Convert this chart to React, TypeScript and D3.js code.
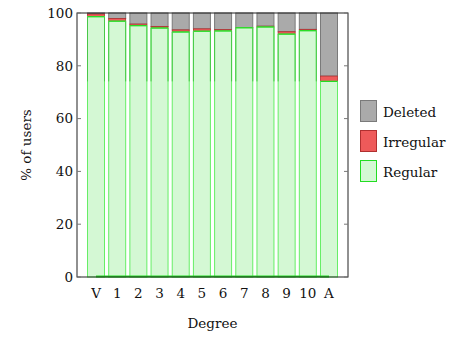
import React from "react";
import * as d3 from "d3";

const categories = ["V", "1", "2", "3", "4", "5", "6", "7", "8", "9", "10", "A"];
const regular = [98.6, 96.9, 95.2, 94.3, 92.8, 93.1, 93.2, 94.4, 94.7, 92.0, 93.3, 74.1];
const irregular = [1.0, 1.0, 0.6, 0.6, 0.8, 0.9, 0.5, 0.1, 0.3, 0.9, 0.5, 2.0];
const yTicks = [0, 20, 40, 60, 80, 100];
const legendItems = ["Deleted", "Irregular", "Regular"];

const W = 456, H = 337;
const L = 77, R = 348, T = 13, B = 277;
const FONT = "DejaVu Serif";

export default function App() {
  const x = d3.scaleLinear().domain([-0.897, categories.length - 1 + 0.897]).range([L, R]);
  const y = d3.scaleLinear().domain([0, 100]).range([B, T]);
  const bw = 17;
  const minReg = d3.min(regular) as number;

  const legendColors = [
    { fill: "#aaaaaa", stroke: "#7a7a7a" },
    { fill: "#ee5a5a", stroke: "#b03030" },
    { fill: "#d4f8d4", stroke: "#22dd22" },
  ];

  const fs = 13.5;

  return (
    <svg width={W} height={H} style={{ position: "absolute", left: 0, top: 0, background: "#fff" }}>
      {categories.map((c, i) => {
        const cx = x(i);
        const x0 = cx - bw / 2;
        const r = regular[i];
        const ir = irregular[i];
        return (
          <g key={c}>
            <rect x={x0} y={y(100)} width={bw} height={y(r + ir) - y(100)} fill="#aaaaaa" stroke="#7a7a7a" strokeWidth={1} />
            {ir > 0 && (
              <rect x={x0} y={y(r + ir)} width={bw} height={y(r) - y(r + ir)} fill="#ee5a5a" stroke="#b03030" strokeWidth={0.8} />
            )}
            <rect x={x0} y={y(r)} width={bw} height={y(0) - y(r)} fill="#d4f8d4" stroke="#66ee66" strokeWidth={1} />
            <line x1={x0} x2={x0 + bw} y1={y(r)} y2={y(r)} stroke="#22dd22" strokeWidth={1.2} />
            <line x1={x0} x2={x0} y1={y(minReg)} y2={y(r)} stroke="#48c848" strokeWidth={1} />
            <line x1={x0 + bw} x2={x0 + bw} y1={y(minReg)} y2={y(r)} stroke="#48c848" strokeWidth={1} />
          </g>
        );
      })}
      <line x1={x(0)} x2={x(categories.length - 1)} y1={y(0) - 0.5} y2={y(0) - 0.5} stroke="#22dd22" strokeWidth={2} />

      <rect x={L} y={T} width={R - L} height={B - T} fill="none" stroke="#222" strokeWidth={1} />

      <g fontFamily={FONT} fontSize={fs} fill="#111">
        {yTicks.map((t) => (
          <g key={t}>
            <line x1={L} x2={L + 4} y1={y(t)} y2={y(t)} stroke="#777" strokeWidth={1} />
            <line x1={R - 4} x2={R} y1={y(t)} y2={y(t)} stroke="#777" strokeWidth={1} />
            <text x={L - 4} y={y(t)} dy="0.35em" textAnchor="end">
              {t}
            </text>
          </g>
        ))}

        {categories.map((c, i) => (
          <text key={c} x={x(i)} y={298} textAnchor="middle">
            {c}
          </text>
        ))}

        <text x={(L + R) / 2} y={328} textAnchor="middle">
          Degree
        </text>
        <text transform={`translate(31, ${(T + B) / 2}) rotate(-90)`} textAnchor="middle">
          % of users
        </text>

        {legendItems.map((name, i) => {
          const ly = 100 + i * 30;
          return (
            <g key={name}>
              <rect x={360.5} y={ly + 0.5} width={16} height={21} fill={legendColors[i].fill} stroke={legendColors[i].stroke} strokeWidth={1} />
              <text x={383} y={ly + 17}>
                {name}
              </text>
            </g>
          );
        })}
      </g>
    </svg>
  );
}
